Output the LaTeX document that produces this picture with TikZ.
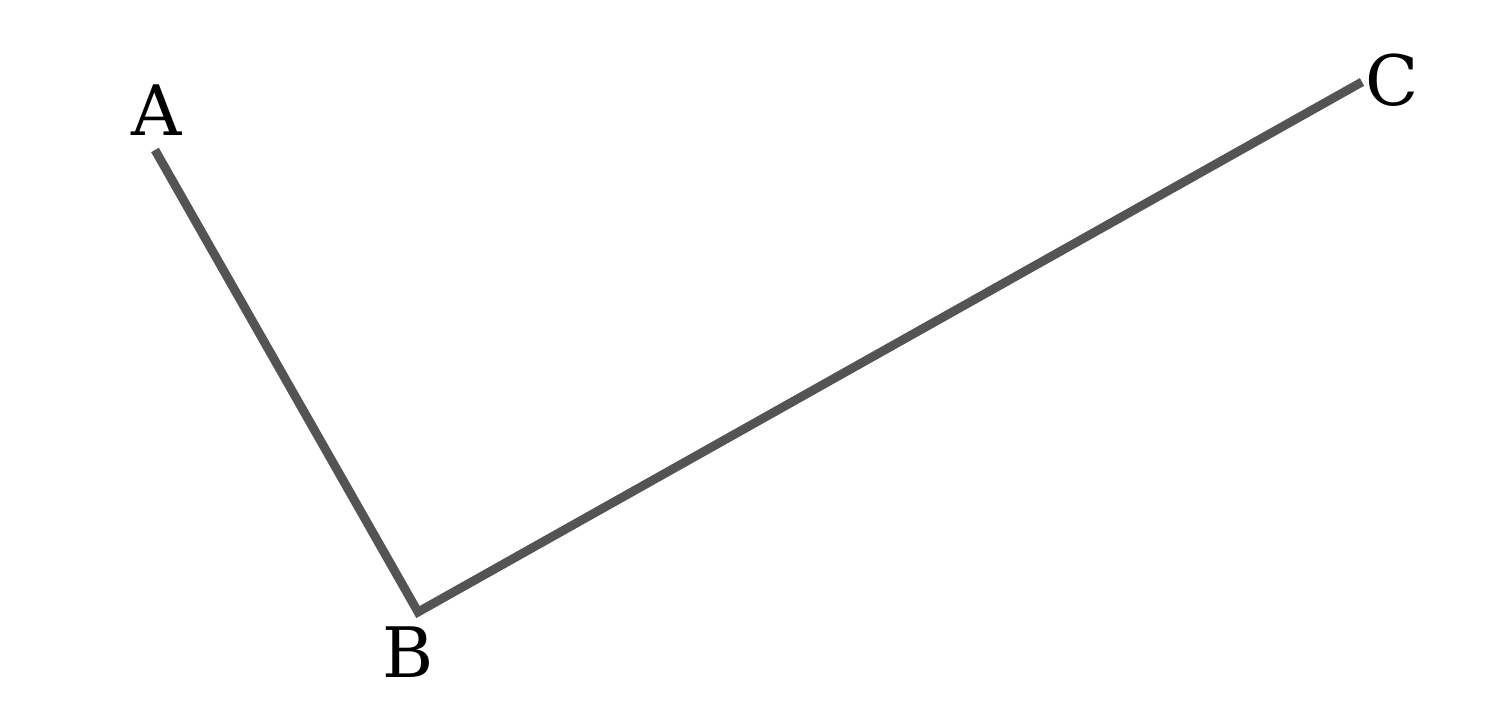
\documentclass[tikz,border=0pt]{standalone}
\usepackage{amsmath,amssymb}
\usepackage{fontspec}
\setmainfont{DejaVu Serif}
\usepackage{tikz}

\begin{document}
\begin{tikzpicture}
\tikzset{lbl/.style={font=\fontsize{33}{38}\selectfont,inner sep=0pt}}
\useasboundingbox (0,0) rectangle (24.8,11.933);
\coordinate (A) at (2.583,9.433);
\coordinate (B) at (6.967,1.733);
\coordinate (C) at (22.7,10.567);
\node[lbl] (a) at (2.617,10.1) {A};
\node[lbl] (b) at (6.8,1.067) {B};
\node[lbl] (c) at (23.2,10.6) {C};
\draw[line width=4.2pt,color=black!67] (A) -- (B) -- (C);
\end{tikzpicture}
\end{document}
